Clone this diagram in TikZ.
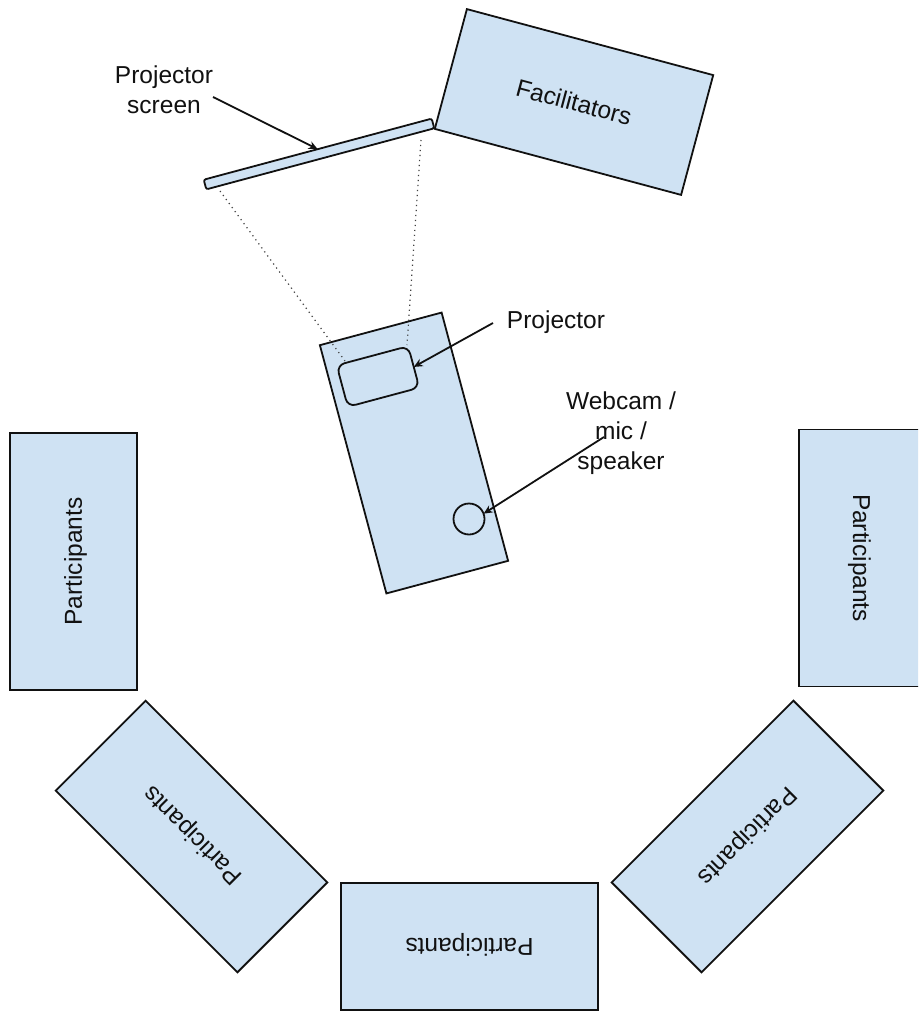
\documentclass[tikz,border=0pt]{standalone}
\usepackage{fontspec}
\setmainfont{Liberation Sans}
\usetikzlibrary{arrows.meta}
\definecolor{paleblue}{HTML}{CFE2F3}
\definecolor{inkline}{HTML}{111111}
\newcommand{\liftlabel}[2]{\raisebox{#1}[\height][\depth]{#2}}
\tikzset{
  x=1pt,y=-1pt,
  box/.style={draw=inkline,fill=paleblue,line width=1.8pt,outer sep=0pt,inner sep=0pt,align=center,font=\fontsize{24.5pt}{30pt}\selectfont,text=inkline},
  tablebox/.style={box,minimum width=257pt,minimum height=127pt},
  lbl/.style={align=center,inner sep=0pt,outer sep=0pt,font=\fontsize{24.5pt}{30pt}\selectfont,text=inkline},
  pointer/.style={draw=inkline,line width=1.8pt,-{Stealth[length=9pt,width=8pt]}},
  beam/.style={draw=inkline!80,line width=1.2pt,dash pattern=on 1.2pt off 3.8pt}
}
\begin{document}
\begin{tikzpicture}
\clip (0,0) rectangle (918,1011);
\fill[white] (0,0) rectangle (918,1011);
% named free ends
\coordinate (beamA0) at (220,191);
\coordinate (beamA1) at (345,361);
\coordinate (beamB0) at (421,140);
\coordinate (beamB1) at (407,345);
\coordinate (screenTail) at (213,97);
\coordinate (projTail) at (493,323);
\coordinate (camTail) at (604,437);
% tables
\node[tablebox,minimum width=255pt,minimum height=124pt,rotate=-15] (facil) at (574,102) {Facilitators};
\node[box,rounded corners=2pt,minimum width=236pt,minimum height=10pt,rotate=15] (screen) at (319,154) {};
\node[box,minimum width=126pt,minimum height=257pt,rotate=15] (table) at (414,453) {};
\draw[beam] (beamA0) -- (beamA1);
\draw[beam] (beamB0) -- (beamB1);
\node[box,rounded corners=8pt,minimum width=74pt,minimum height=43pt,rotate=15] (proj) at (378,376.5) {};
\node[box,circle,minimum size=31pt] (cam) at (469,519) {};
\node[tablebox,rotate=90] (pLeft) at (73.5,561.5) {\liftlabel{-2pt}{Participants}};
\node[tablebox,rotate=-90] (pRight) at (862.5,558) {\liftlabel{-3pt}{Participants}};
\node[tablebox,rotate=135] (pBL) at (191.5,836.5) {\liftlabel{-3pt}{Participants}};
\node[tablebox,rotate=180] (pBot) at (469.5,946.5) {\liftlabel{-1.5pt}{Participants}};
\node[tablebox,rotate=225] (pBR) at (747.5,836.5) {\liftlabel{-1.5pt}{Participants}};
% labels
\node[lbl] (lblScreen) at (164,90) {Projector\\screen};
\node[lbl] (lblProj) at (556,322) {Projector};
\node[lbl] (lblCam) at (621,433) {Webcam /\\mic /\\speaker};
% connectors
\draw[pointer] (screenTail) -- (screen.north);
\draw[pointer] (projTail) -- (proj.east);
\draw[pointer] (camTail) -- (cam.20);
\end{tikzpicture}
\end{document}
